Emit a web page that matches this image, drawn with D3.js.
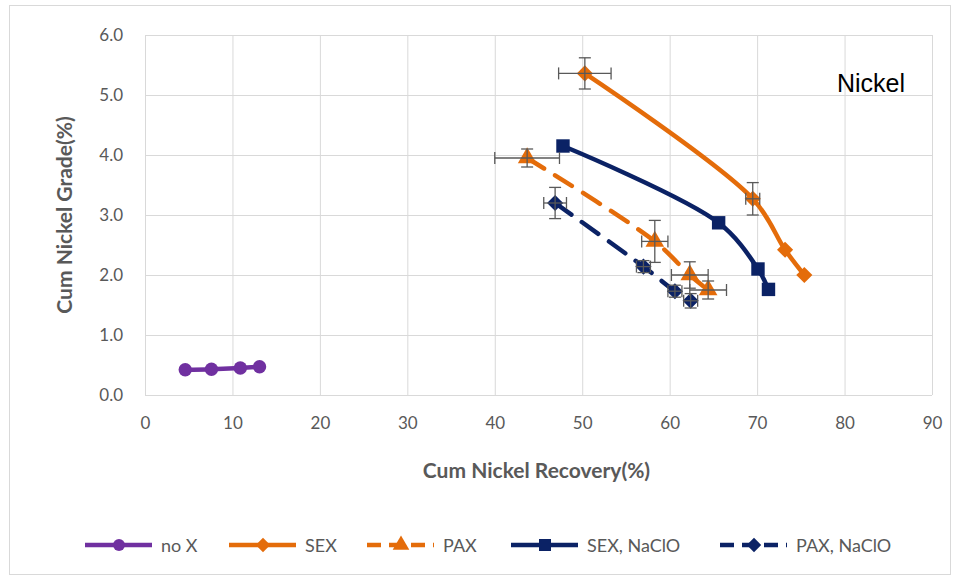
<!DOCTYPE html>
<html>
<head>
<meta charset="utf-8">
<script src="https://cdn.jsdelivr.net/npm/d3@7"></script>
<style>
  html, body { margin: 0; padding: 0; background: #fff; }
  svg { display: block; }
</style>
</head>
<body>
<svg id="chart" width="960" height="581"></svg>
<script>
// Cumulative nickel recovery (x, %) vs cumulative nickel grade (y, %)
const seriesNames = ["no X", "SEX", "PAX", "SEX, NaClO", "PAX, NaClO"];

const noXRecovery = [4.6, 7.6, 10.9, 13.1];
const noXGrade    = [0.42, 0.43, 0.45, 0.47];

const sexRecovery = [50.3, 69.5, 73.2, 75.4];
const sexGrade    = [5.36, 3.27, 2.42, 2.0];
const sexErrX     = [3.0, 0.8, 0, 0];
const sexErrY     = [0.26, 0.27, 0, 0];

const paxRecovery = [43.7, 58.3, 62.3, 64.4];
const paxGrade    = [3.95, 2.56, 2.0, 1.75];
const paxErrX     = [3.7, 1.5, 2.1, 2.1];
const paxErrY     = [0.15, 0.35, 0.22, 0.15];

const sexNaRecovery = [47.8, 65.6, 70.1, 71.3];
const sexNaGrade    = [4.15, 2.87, 2.1, 1.76];

const paxNaRecovery = [46.9, 57.0, 60.6, 62.4];
const paxNaGrade    = [3.2, 2.14, 1.73, 1.57];
const paxNaErrX     = [1.3, 0.8, 0.8, 0.8];
const paxNaErrY     = [0.26, 0.1, 0.1, 0.12];

const xTicks = [0, 10, 20, 30, 40, 50, 60, 70, 80, 90];
const yTicks = [0, 1, 2, 3, 4, 5, 6];

const colors = ["#7030A0", "#E46C0A", "#E46C0A", "#0B2265", "#0B2265"];
// Diamonds are squares turned 45 degrees
const shapes = [d3.symbolCircle, d3.symbolSquare, d3.symbolTriangle, d3.symbolSquare, d3.symbolSquare];
const rotations = [0, 45, 0, 0, 45];
const symSizes = [140, 130, 150, 180, 130];
const dashes = [null, null, "20,13", null, "20,13"];

const zeros = [0, 0, 0, 0];
const series = [
  {x: noXRecovery, y: noXGrade, ex: zeros, ey: zeros},
  {x: sexRecovery, y: sexGrade, ex: sexErrX, ey: sexErrY},
  {x: paxRecovery, y: paxGrade, ex: paxErrX, ey: paxErrY},
  {x: sexNaRecovery, y: sexNaGrade, ex: zeros, ey: zeros},
  {x: paxNaRecovery, y: paxNaGrade, ex: paxNaErrX, ey: paxNaErrY}
].map((s, i) => ({
  name: seriesNames[i],
  pts: s.x.map((v, j) => ({x: v, y: s.y[j], ex: s.ex[j], ey: s.ey[j]}))
}));

const svg = d3.select("#chart");
const font = "Lato, 'Open Sans', sans-serif";
const gray = "#595959";

// Chart frame
svg.append("rect").attr("x", 9.5).attr("y", 5.5).attr("width", 941).attr("height", 569)
  .attr("fill", "#fff").attr("stroke", "#d9d9d9");

const plotLeft = 145, plotRight = 932, plotTop = 35, plotBottom = 395;
const x = d3.scaleLinear().domain([0, 90]).range([plotLeft, plotRight]);
const y = d3.scaleLinear().domain([0, 6]).range([plotBottom, plotTop]);

// Gridlines
const grid = svg.append("g");
grid.selectAll(".gx").data(xTicks).join("line")
  .attr("x1", d => x(d) + 0.5).attr("x2", d => x(d) + 0.5)
  .attr("y1", plotTop).attr("y2", plotBottom)
  .attr("stroke", "#d9d9d9").attr("stroke-width", 1);
grid.selectAll(".gy").data(yTicks).join("line")
  .attr("x1", plotLeft).attr("x2", plotRight)
  .attr("y1", d => y(d) + 0.5).attr("y2", d => y(d) + 0.5)
  .attr("stroke", "#d9d9d9").attr("stroke-width", 1);

// Axes (labels only; gridlines carry the lines)
const xAxis = svg.append("g").attr("transform", `translate(0,${plotBottom + 14})`)
  .call(d3.axisBottom(x).tickValues(xTicks).tickSize(0).tickPadding(8).tickFormat(d3.format("d")));
const yAxis = svg.append("g").attr("transform", `translate(${plotLeft - 22},0)`)
  .call(d3.axisLeft(y).tickValues(yTicks).tickSize(0).tickPadding(0).tickFormat(d3.format(".1f")));
[xAxis, yAxis].forEach(a => {
  a.select(".domain").remove();
  a.selectAll("text").attr("fill", gray).style("font-family", font).style("font-size", "17px");
});

// Axis titles
svg.append("text").attr("x", (plotLeft + plotRight) / 2 - 2).attr("y", 478)
  .attr("text-anchor", "middle").attr("fill", gray)
  .style("font-family", font).style("font-size", "21px").style("font-weight", "bold")
  .text("Cum Nickel Recovery(%)");
svg.append("text").attr("transform", `translate(72,${(plotTop + plotBottom) / 2}) rotate(-90)`)
  .attr("text-anchor", "middle").attr("fill", gray)
  .style("font-family", font).style("font-size", "21px").style("font-weight", "bold")
  .text("Cum Nickel Grade(%)");

// Panel label
svg.append("text").attr("x", 837).attr("y", 92)
  .attr("fill", "#000").style("font-family", "'Liberation Sans', Arial, sans-serif").style("font-size", "25px")
  .text("Nickel");

// Lines
const lines = svg.append("g");
series.forEach((s, i) => {
  lines.append("path").datum(s.pts)
    .attr("d", d3.line().x(d => x(d.x)).y(d => y(d.y)).curve(d3.curveCatmullRom.alpha(0.5)))
    .attr("fill", "none").attr("stroke", colors[i]).attr("stroke-width", 4.5)
    .attr("stroke-dasharray", dashes[i]).attr("stroke-linecap", dashes[i] ? "round" : "butt");
});

// Markers
series.forEach((s, i) => {
  svg.append("g").selectAll("path").data(s.pts).join("path")
    .attr("transform", d => `translate(${x(d.x)},${y(d.y)}) rotate(${rotations[i]})`)
    .attr("d", d3.symbol().type(shapes[i]).size(symSizes[i]))
    .attr("fill", colors[i]);
});

// Error bars
const err = svg.append("g").attr("stroke", gray).attr("stroke-width", 1.3);
const cap = 6;
series.forEach(s => {
  s.pts.forEach(d => {
    const cx = x(d.x), cy = y(d.y);
    if (d.ex > 0) {
      const x0 = x(d.x - d.ex), x1 = x(d.x + d.ex);
      err.append("line").attr("x1", x0).attr("x2", x1).attr("y1", cy).attr("y2", cy);
      err.append("line").attr("x1", x0).attr("x2", x0).attr("y1", cy - cap).attr("y2", cy + cap);
      err.append("line").attr("x1", x1).attr("x2", x1).attr("y1", cy - cap).attr("y2", cy + cap);
    }
    if (d.ey > 0) {
      const y0 = y(d.y - d.ey), y1 = y(d.y + d.ey);
      err.append("line").attr("x1", cx).attr("x2", cx).attr("y1", y0).attr("y2", y1);
      err.append("line").attr("x1", cx - cap).attr("x2", cx + cap).attr("y1", y0).attr("y2", y0);
      err.append("line").attr("x1", cx - cap).attr("x2", cx + cap).attr("y1", y1).attr("y2", y1);
    }
  });
});

// Legend
const legendX = [85, 229, 367, 511, 720];
const legend = svg.append("g").attr("transform", "translate(0,545)");
seriesNames.forEach((name, i) => {
  const g = legend.append("g").attr("transform", `translate(${legendX[i]},0)`);
  g.append("line").attr("x1", 0).attr("x2", 67).attr("y1", 0).attr("y2", 0)
    .attr("stroke", colors[i]).attr("stroke-width", 4.5)
    .attr("stroke-dasharray", dashes[i] ? "14,8" : null);
  g.append("path").attr("transform", `translate(34,0) rotate(${rotations[i]})`)
    .attr("d", d3.symbol().type(shapes[i]).size(symSizes[i] * 0.8)).attr("fill", colors[i]);
  g.append("text").attr("x", 76).attr("y", 6.5).attr("fill", gray)
    .style("font-family", font).style("font-size", "18px").text(name);
});
</script>
</body>
</html>
